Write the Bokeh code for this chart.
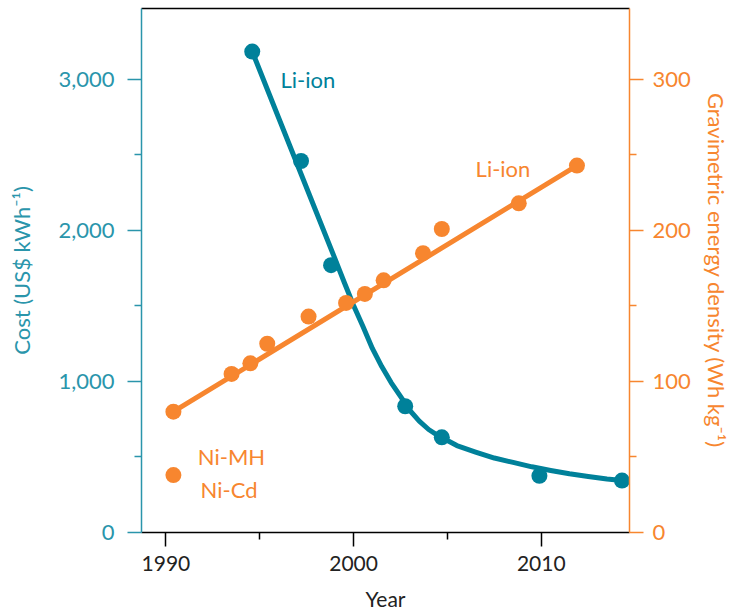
from bokeh.plotting import figure
from bokeh.models import Range1d, LinearAxis, FixedTicker, Label, NumeralTickFormatter
from bokeh.embed import file_html
from bokeh.resources import INLINE

# Li-ion pack cost (US$ per kWh)
cost_years = [1994.6, 1997.2, 1998.8, 2002.75, 2004.7, 2009.9, 2014.3]
cost_values = [3185, 2460, 1770, 836, 630, 375, 344]

# Fitted cost trend
trend_years = [1994.6, 1996.0, 1998.0, 1999.0, 1999.5, 2000.0, 2000.5, 2001.0, 2001.5,
               2002.0, 2002.5, 2003.0, 2003.5, 2004.0, 2004.5, 2005.0, 2005.5, 2006.5,
               2007.5, 2008.5, 2009.5, 2010.5, 2011.5, 2012.5, 2013.5, 2014.3]
trend_cost = [3185, 2748, 2126, 1815, 1657, 1503, 1364, 1219, 1099,
              993, 901, 808, 738, 682, 642, 609, 576, 533,
              493, 464, 435, 411, 389, 371, 354, 344]

# Li-ion gravimetric energy density (Wh per kg)
li_years = [1990.4, 1993.5, 1994.5, 1995.4, 1997.6, 1999.6, 2000.6, 2001.6,
            2003.7, 2004.7, 2008.8, 2011.9]
li_density = [80, 105, 112, 125, 143, 152, 158, 167, 185, 201, 218, 243]

# Linear fit of the Li-ion energy density
fit_years = [1990.4, 2011.9]
fit_density = [80, 243]

# Ni-MH / Ni-Cd energy density
ni_years = [1990.4]
ni_density = [38]

x_ticks = [1990, 2000, 2010]
x_minor = [1995, 2005]
cost_ticks = [0, 1000, 2000, 3000]
cost_minor = [500, 1500, 2500]
density_ticks = [0, 100, 200, 300]
density_minor = [50, 150, 250]

TEAL = "#00819a"
TEAL_AXIS = "#2a95ab"
ORANGE = "#f7862f"
FONT = "Lato"
SIZE = "22px"

p = figure(width=732, height=614, output_backend="svg", toolbar_location=None,
           x_range=Range1d(1988.7, 2014.7), y_range=Range1d(0, 3470),
           min_border_left=141, min_border_right=103, min_border_top=8,
           min_border_bottom=82, x_axis_location=None, y_axis_location=None)
p.grid.visible = False
p.outline_line_color = None
p.extra_y_ranges = {"density": Range1d(0, 347)}

# bottom axis
xa = LinearAxis(ticker=FixedTicker(ticks=x_ticks, minor_ticks=x_minor),
                axis_label="Year")
xa.axis_line_color = "black"
xa.axis_line_width = 1.5
xa.major_tick_line_color = "black"
xa.major_tick_line_width = 1.5
xa.minor_tick_line_color = "black"
xa.minor_tick_line_width = 1.5
xa.major_tick_in = 0
xa.major_tick_out = 14
xa.minor_tick_in = 0
xa.minor_tick_out = 7
xa.major_label_standoff = 9
xa.major_label_text_font = FONT
xa.major_label_text_font_size = "21px"
xa.major_label_text_color = "#222222"
xa.axis_label_text_font = FONT
xa.axis_label_text_font_size = "21px"
xa.axis_label_text_font_style = "normal"
xa.axis_label_text_color = "#222222"
xa.axis_label_standoff = 12
p.add_layout(xa, "below")

# top border
ta = LinearAxis(ticker=FixedTicker(ticks=[]))
ta.axis_line_color = "black"
ta.axis_line_width = 1.5
ta.major_tick_out = 0
ta.major_tick_in = 0
ta.minor_tick_out = 0
ta.minor_tick_in = 0
ta.major_label_standoff = 0
ta.major_label_text_font_size = "0px"
p.add_layout(ta, "above")

# left cost axis
ya = LinearAxis(ticker=FixedTicker(ticks=cost_ticks, minor_ticks=cost_minor),
                formatter=NumeralTickFormatter(format="0,0"),
                axis_label="Cost (US$ kWh\u207b\u00b9)")
# right density axis
da = LinearAxis(y_range_name="density",
                ticker=FixedTicker(ticks=density_ticks, minor_ticks=density_minor),
                axis_label="Gravimetric energy density (Wh kg\u207b\u00b9)")

for ax, col in ((ya, TEAL_AXIS), (da, ORANGE)):
    ax.axis_line_color = col
    ax.axis_line_width = 1.5
    ax.major_tick_line_color = col
    ax.major_tick_line_width = 1.5
    ax.minor_tick_line_color = col
    ax.minor_tick_line_width = 1.5
    ax.major_tick_in = 0
    ax.major_tick_out = 14
    ax.minor_tick_in = 0
    ax.minor_tick_out = 7
    ax.major_label_text_font = FONT
    ax.major_label_text_font_size = SIZE
    ax.major_label_text_color = col
    ax.axis_label_text_font = FONT
    ax.axis_label_text_font_size = SIZE
    ax.axis_label_text_font_style = "normal"
    ax.axis_label_text_color = col

ya.major_label_standoff = 13
ya.axis_label_standoff = 20
da.major_label_standoff = 9
da.axis_label_standoff = 9
p.add_layout(ya, "left")
p.add_layout(da, "right")

# cost series
p.line(trend_years, trend_cost, line_color=TEAL, line_width=5, line_join="round")
p.scatter(cost_years, cost_values, size=16, fill_color=TEAL, line_color=None)

# energy density series
p.line(fit_years, fit_density, y_range_name="density", line_color=ORANGE,
       line_width=5, line_cap="round")
p.scatter(li_years, li_density, y_range_name="density", size=16,
          fill_color=ORANGE, line_color=None)
p.scatter(ni_years, ni_density, y_range_name="density", size=16,
          fill_color=ORANGE, line_color=None)

# series labels
label_style = dict(text_font=FONT, text_font_size=SIZE, text_baseline="middle")
p.add_layout(Label(x=1996.1, y=3000, text="Li-ion", text_color=TEAL, **label_style))
p.add_layout(Label(x=2006.5, y=241, y_range_name="density", text="Li-ion",
                   text_color=ORANGE, **label_style))
p.add_layout(Label(x=1991.7, y=50, y_range_name="density", text="Ni-MH",
                   text_color=ORANGE, **label_style))
p.add_layout(Label(x=1991.85, y=28.5, y_range_name="density", text="Ni-Cd",
                   text_color=ORANGE, **label_style))

open("out.html", "w").write(file_html(p, INLINE))
